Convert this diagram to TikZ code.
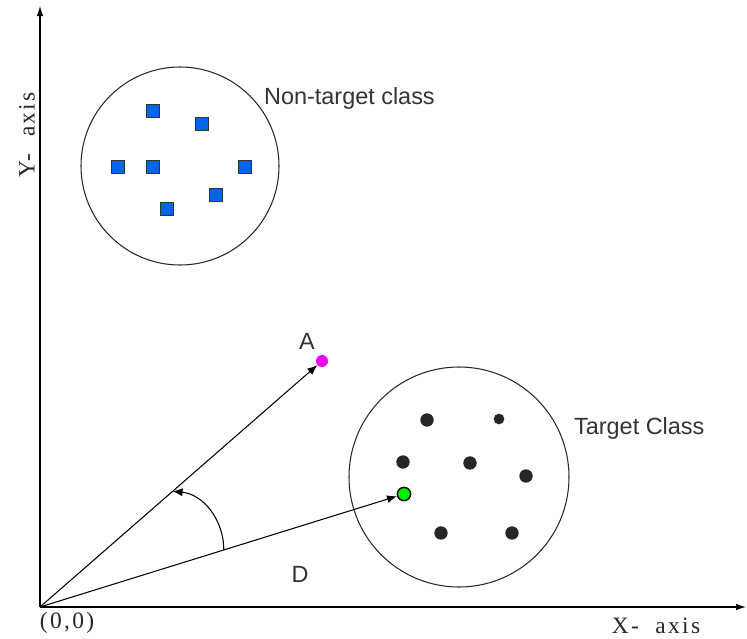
\documentclass[tikz,border=0pt]{standalone}
\usepackage{fontspec}
\setmainfont{Liberation Serif}
\newfontfamily\labelfont{Liberation Sans}
\usetikzlibrary{positioning,arrows.meta}

\definecolor{sqblue}{RGB}{0,102,232}
\definecolor{ptgreen}{RGB}{0,238,0}
\definecolor{ptpink}{RGB}{240,0,240}
\definecolor{ringgray}{RGB}{40,40,40}

\begin{document}
\begin{tikzpicture}[
    x=0.03cm, y=-0.03cm,
    axis/.style={line width=1pt, -{Latex[length=3mm,width=2mm]}},
    arrow/.style={line width=0.9pt, -{Latex[length=3mm,width=2.4mm]}},
    ring/.style={draw=ringgray, line width=0.9pt, circle, inner sep=0pt},
    sq/.style={draw=black!80, fill=sqblue, line width=0.6pt, minimum size=0.38cm, inner sep=0pt},
    dot/.style={circle, fill=black!85, minimum size=0.4cm, inner sep=0pt},
    tag/.style={font=\labelfont\fontsize{20}{23}\selectfont, text=black!80},
    axlabel/.style={font=\fontsize{20}{23}\selectfont\addfontfeature{LetterSpace=10}, text=black!85}
  ]
    \useasboundingbox (0,0) rectangle (747,639);

    % axes
    \coordinate (origin) at (40,607);
    \coordinate (xend) at (746,607);
    \coordinate (yend) at (40,6);
    \draw[axis] (origin) -- (xend);
    \draw[axis] (origin) -- (yend);
    \node[axlabel] (olab) at (67,623) {(0,0)};
    \node[axlabel] (xlab) at (656,626) {X-\ \ axis};
    \node[axlabel, rotate=90] (ylab) at (27,135) {Y-\ \ axis};

    % non-target class
    \node[ring, minimum size=5.94cm] (nontarget) at (180,166) {};
    \node[tag, anchor=west] (ntlab) at (260,98) {Non-target class};
    \node[sq] (s1) at (153,111) {};
    \node[sq] (s2) at (202,124) {};
    \node[sq] (s3) at (118,167) {};
    \node[sq] (s4) at (153,167) {};
    \node[sq] (s5) at (245,167) {};
    \node[sq] (s6) at (216,195) {};
    \node[sq] (s7) at (167,209) {};

    % target class
    \node[ring, minimum size=6.6cm] (target) at (459,477) {};
    \node[tag, anchor=west] (tlab) at (570,428) {Target Class};
    \node[dot] (d1) at (427,420) {};
    \node[dot, minimum size=0.32cm] (d2) at (499,419) {};
    \node[dot] (d3) at (403,462) {};
    \node[dot] (d4) at (470,463) {};
    \node[dot] (d5) at (526,476) {};
    \node[dot] (d6) at (441,533) {};
    \node[dot] (d7) at (512,533) {};

    % query points
    \node[circle, fill=ptpink, minimum size=0.36cm, inner sep=0pt] (apt) at (322,361) {};
    \node[tag] (alab) at (307,341) {A};
    \node[circle, draw=black, fill=ptgreen, line width=1.2pt, minimum size=0.4cm, inner sep=0pt] (gpt) at (404,494) {};
    \node[tag] (dlab) at (300,574) {D};

    \draw[arrow] (origin) -- (apt);
    \draw[arrow] (origin) -- (gpt);

    % angle between the two vectors
    \path (origin) -- (apt) coordinate[pos=0.478] (angA);
    \path (origin) -- (gpt) coordinate[pos=0.515] (angD);
    \draw[arrow] (angD) to[out=90, in=-5] (angA);
  \end{tikzpicture}
\end{document}
